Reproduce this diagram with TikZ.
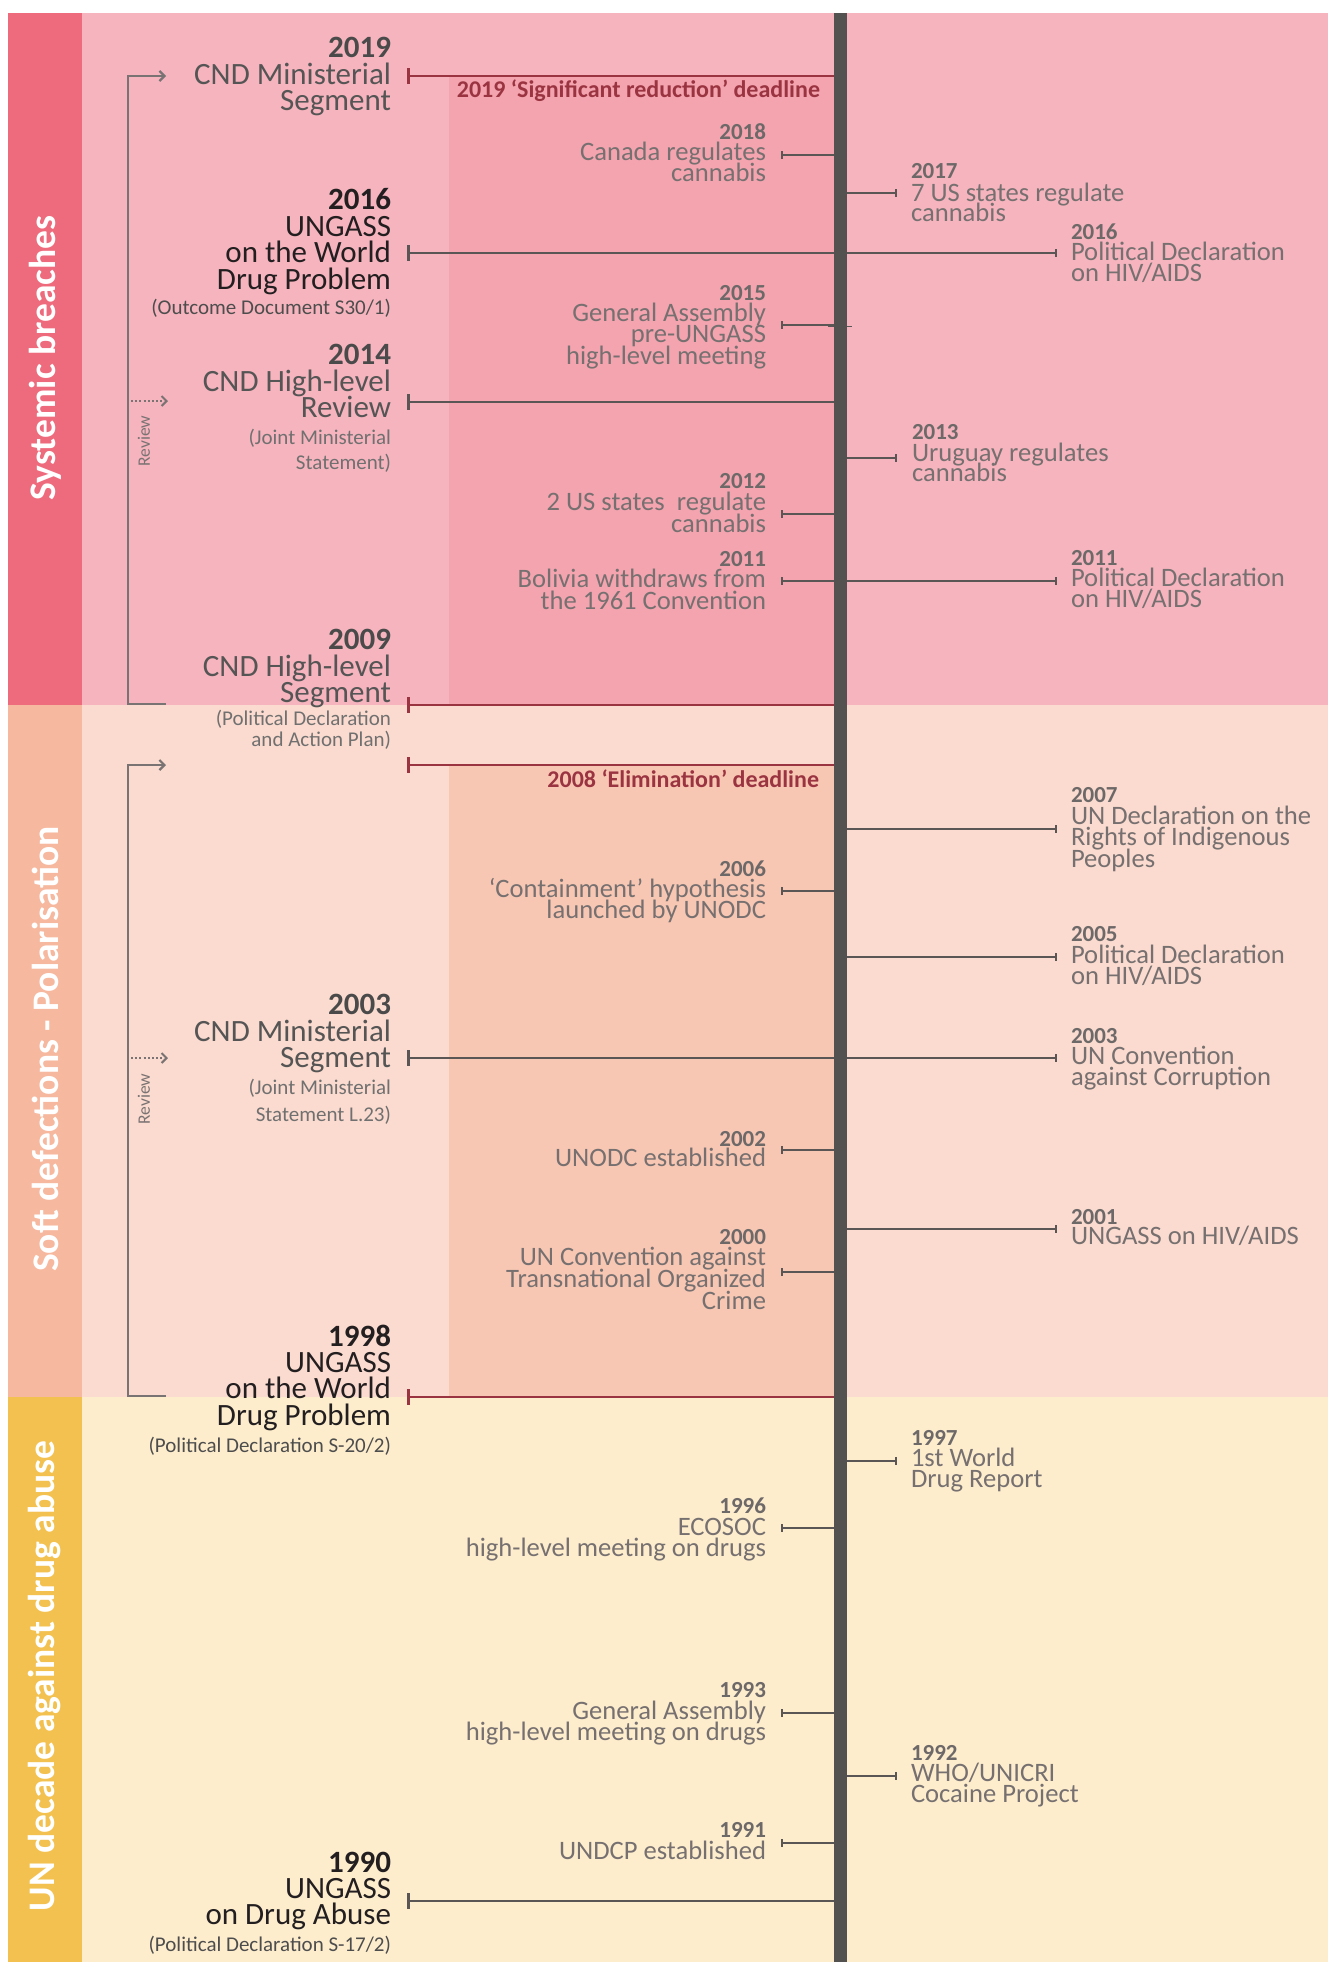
\documentclass[tikz,border=0pt]{standalone}
\usepackage{fontspec}
\setmainfont{Carlito}
\usetikzlibrary{arrows.meta}
\definecolor{stripA}{HTML}{EE6B7D}
\definecolor{bgA}{HTML}{F6B4BE}
\definecolor{bandA}{HTML}{F3A4AF}
\definecolor{stripB}{HTML}{F6B89E}
\definecolor{bgB}{HTML}{FBDBCF}
\definecolor{bandB}{HTML}{F8C7B3}
\definecolor{stripC}{HTML}{F3C14F}
\definecolor{bgC}{HTML}{FDEDCD}
\definecolor{cYL}{HTML}{4A4A4A}
\definecolor{cTL}{HTML}{555555}
\definecolor{cBlk}{HTML}{231F20}
\definecolor{cSub}{HTML}{707070}
\definecolor{cSubK}{HTML}{4D4D4D}
\definecolor{cMid}{HTML}{767070}
\definecolor{cMidY}{HTML}{6E6969}
\definecolor{cRed}{HTML}{9B3441}
\definecolor{cBar}{HTML}{545151}
\definecolor{cBrk}{HTML}{7A7373}
\definecolor{cLine}{HTML}{5A5656}
\tikzset{
 zsep/.style={inner sep=0pt, outer sep=0pt},
 yL/.style={zsep, anchor=base east, font=\fontsize{31}{31}\selectfont\bfseries, text=cYL},
 yLk/.style={yL, text=cBlk},
 tL/.style={zsep, anchor=base east, font=\fontsize{31}{31}\selectfont, text=cTL},
 tLk/.style={tL, text=cBlk},
 sL/.style={zsep, anchor=base east, font=\fontsize{21}{21}\selectfont, text=cSub},
 sLk/.style={sL, text=cSubK},
 yM/.style={zsep, anchor=base east, font=\fontsize{23}{23}\selectfont\bfseries, text=cMidY},
 tM/.style={zsep, anchor=base east, font=\fontsize{26.6}{26.6}\selectfont, text=cMid},
 yR/.style={yM, anchor=base west},
 tR/.style={tM, anchor=base west},
 dl/.style={zsep, anchor=base east, font=\fontsize{24}{24}\selectfont\bfseries, text=cRed},
 striplab/.style={zsep, rotate=90, font=\fontsize{37.5}{37.5}\selectfont\bfseries, text=white},
 revlab/.style={zsep, rotate=90, font=\fontsize{17.5}{17.5}\selectfont, text=cBrk},
 brk/.style={draw=cBrk, line width=2.2pt},
 thinln/.style={draw=cLine, line width=1.6pt},
 tickln/.style={draw=cLine, line width=2pt},
}
\newcommand\mlines[6]{\foreach \tx [count=\k] in {#6} {\node[#2] (#1-\k) at (#3,{#4+(\k-1)*#5}) {\tx};}}
\newcommand\bigline[3]{%
 \coordinate (#1-a) at (408,#2); \coordinate (#1-b) at (836,#2);
 \draw[line width=2.6pt, draw=#3] (#1-a) -- (#1-b);
 \draw[line width=3pt, draw=#3] ([yshift=8pt]#1-a) -- ([yshift=-8pt]#1-a);}
\newcommand\midtick[2]{%
 \coordinate (#1-a) at (782,#2); \coordinate (#1-b) at (836,#2);
 \draw[thinln] (#1-a) -- (#1-b);
 \draw[tickln] ([yshift=4pt]#1-a) -- ([yshift=-4pt]#1-a);}
\newcommand\rtick[3]{%
 \coordinate (#1-a) at (845,#2); \coordinate (#1-b) at (#3,#2);
 \draw[thinln] (#1-a) -- (#1-b);
 \draw[tickln] ([yshift=4pt]#1-b) -- ([yshift=-4pt]#1-b);}
\begin{document}
\begin{tikzpicture}[x=1pt,y=-1pt]
\useasboundingbox (0,0) rectangle (1328,1962);
\fill[white] (0,0) rectangle (1328,1962);
% sections
\fill[stripA] (8,13) rectangle (82,705);
\fill[bgA] (82,13) rectangle (1328,705);
\fill[bandA] (449,77) rectangle (834,705);
\fill[stripB] (8,705) rectangle (82,1397);
\fill[bgB] (82,705) rectangle (1328,1397);
\fill[bandB] (449,765) rectangle (834,1397);
\fill[stripC] (8,1397) rectangle (82,1962);
\fill[bgC] (82,1397) rectangle (1328,1962);
% section labels
\node[striplab] (s1) at (45,358) {Systemic breaches};
\node[striplab] (s2) at (45,1049) {Soft defections - Polarisation};
\node[striplab] (s3) at (45,1676) {UN decade against drug abuse};
% big connectors
\bigline{c19}{76}{cRed}
\bigline{c16}{253}{cLine}
\bigline{c14}{402}{cLine}
\bigline{c09}{705}{cRed}
\bigline{c08}{765}{cRed}
\bigline{c03}{1058}{cLine}
\bigline{c98}{1397}{cRed}
\bigline{c90}{1901}{cLine}
% small connectors left of bar
\midtick{k18}{155}
\midtick{k15}{325}
\midtick{k12}{514}
\midtick{k11}{581}
\midtick{k06}{891}
\midtick{k02}{1150}
\midtick{k00}{1272}
\midtick{k96}{1528}
\midtick{k93}{1713}
\midtick{k91}{1843}
% right connectors
\rtick{q17}{193}{896}
\rtick{q16}{253}{1056}
\rtick{q13}{458}{896}
\rtick{q11}{581}{1056}
\rtick{q07}{829}{1056}
\rtick{q05}{957}{1056}
\rtick{q03}{1058}{1056}
\rtick{q01}{1229}{1056}
\rtick{q97}{1461}{896}
\rtick{q92}{1776}{896}
\coordinate (st1) at (828,326); \coordinate (st2) at (852,326);
\draw[draw=cLine, line width=1pt] (st1) -- (st2);
% timeline bar
\coordinate (bartop) at (840.5,13); \coordinate (barbot) at (840.5,1962);
\draw[line width=13pt, draw=cBar] (bartop) -- (barbot);
% brackets
\coordinate (b1e) at (166,704); \coordinate (b1b) at (128,704);
\coordinate (b1t) at (128,76); \coordinate (b1a) at (166,76);
\draw[brk, -{Straight Barb[length=5pt,width=10pt]}] (b1e) -- (b1b) -- (b1t) -- (b1a);
\coordinate (b2e) at (166,1396); \coordinate (b2b) at (128,1396);
\coordinate (b2t) at (128,765); \coordinate (b2a) at (166,765);
\draw[brk, -{Straight Barb[length=5pt,width=10pt]}] (b2e) -- (b2b) -- (b2t) -- (b2a);
\coordinate (r1s) at (131,401); \coordinate (r1e) at (168,401);
\draw[draw=cBrk, line width=2pt, dash pattern=on 2pt off 2.2pt, -{Straight Barb[length=5pt,width=10pt]}] (r1s) -- (r1e);
\coordinate (r2s) at (131,1058); \coordinate (r2e) at (168,1058);
\draw[draw=cBrk, line width=2pt, dash pattern=on 2pt off 2.2pt, -{Straight Barb[length=5pt,width=10pt]}] (r2s) -- (r2e);
\node[revlab] (rv1) at (144,441) {Review};
\node[revlab] (rv2) at (144,1099) {Review};
% deadlines
\node[dl] (d19) at (820,97) {2019 ‘Significant reduction’ deadline};
\node[dl] (d08) at (819,787) {2008 ‘Elimination’ deadline};
% left column
\node[yL] (l19y) at (391,57) {2019};
\mlines{l19}{tL}{391}{84}{26.5}{CND Ministerial,Segment}
\node[yLk] (l16y) at (391,209) {2016};
\mlines{l16}{tLk}{391}{236}{26.5}{UNGASS,on the World,Drug Problem}
\node[sLk] (l16s) at (391,314) {(Outcome Document S30/1)};
\node[yL] (l14y) at (391,364) {2014};
\mlines{l14}{tL}{391}{391}{26.5}{CND High-level,Review}
\mlines{l14s}{sL}{391}{444}{25}{{(Joint Ministerial},{Statement)}}
\node[yL] (l09y) at (391,649) {2009};
\mlines{l09}{tL}{391}{676}{26}{CND High-level,Segment}
\mlines{l09s}{sL}{391}{725}{21.5}{{(Political Declaration\hspace{4pt}},{and Action Plan)}}
\node[yL] (l03y) at (391,1014) {2003};
\mlines{l03}{tL}{391}{1041}{26.5}{CND Ministerial,Segment}
\mlines{l03s}{sL}{391}{1094}{27}{{(Joint Ministerial\hspace{4pt}},{Statement L.23)}}
\node[yLk] (l98y) at (391,1346) {1998};
\mlines{l98}{tLk}{391}{1372}{26.7}{UNGASS,on the World,Drug Problem}
\node[sLk] (l98s) at (391,1452) {(Political Declaration S-20/2)};
\node[yLk] (l90y) at (391,1872) {1990};
\mlines{l90}{tLk}{391}{1898}{26.7}{UNGASS,on Drug Abuse}
\node[sLk] (l90s) at (391,1951) {(Political Declaration S-17/2)};
% middle column
\node[yM] (m18y) at (766,139) {2018};
\mlines{m18}{tM}{766}{160}{21}{Canada regulates,cannabis}
\node[yM] (m15y) at (766,300) {2015};
\mlines{m15}{tM}{766}{321}{21.5}{General Assembly,pre-UNGASS,high-level meeting}
\node[yM] (m12y) at (766,488) {2012};
\mlines{m12}{tM}{766}{510}{22}{2 US states\ \ regulate,cannabis\hspace{6pt}}
\node[yM] (m11y) at (766,566) {2011};
\mlines{m11}{tM}{766}{587}{22}{Bolivia withdraws from,the 1961 Convention}
\node[yM] (m06y) at (766,876) {2006};
\mlines{m06}{tM}{766}{897}{21}{‘Containment’ hypothesis,launched by UNODC}
\node[yM] (m02y) at (766,1146) {2002};
\mlines{m02}{tM}{766}{1166}{21}{UNODC established}
\node[yM] (m00y) at (766,1244) {2000};
\mlines{m00}{tM}{766}{1265}{22}{UN Convention against,Transnational Organized,Crime}
\node[yM] (m96y) at (766,1513) {1996};
\mlines{m96}{tM}{766}{1535}{21}{ECOSOC,high-level meeting on drugs}
\node[yM] (m93y) at (766,1697) {1993};
\mlines{m93}{tM}{766}{1719}{21}{General Assembly\hspace{4pt},high-level meeting on drugs}
\node[yM] (m91y) at (766,1837) {1991};
\mlines{m91}{tM}{766}{1859}{21}{UNDCP established}
% right column
\node[yR] (r17y) at (911,178) {2017};
\mlines{r17}{tR}{911}{201}{20.5}{7 US states regulate,cannabis}
\node[yR] (r16y) at (1071,239) {2016};
\mlines{r16}{tR}{1071}{260}{21}{Political Declaration,on HIV/AIDS}
\node[yR] (r13y) at (912,439) {2013};
\mlines{r13}{tR}{912}{461}{20.5}{Uruguay regulates,cannabis}
\node[yR] (r11y) at (1071,565) {2011};
\mlines{r11}{tR}{1071}{586}{21.5}{Political Declaration,on HIV/AIDS}
\node[yR] (r07y) at (1071,802) {2007};
\mlines{r07}{tR}{1071}{824}{21.5}{UN Declaration on the,Rights of Indigenous,Peoples}
\node[yR] (r05y) at (1071,941) {2005};
\mlines{r05}{tR}{1071}{963}{21}{Political Declaration,on HIV/AIDS}
\node[yR] (r03y) at (1071,1043) {2003};
\mlines{r03}{tR}{1071}{1064}{21}{UN Convention,against Corruption}
\node[yR] (r01y) at (1071,1224) {2001};
\mlines{r01}{tR}{1071}{1244}{21}{UNGASS on HIV/AIDS}
\node[yR] (r97y) at (911,1445) {1997};
\mlines{r97}{tR}{911}{1466}{21}{1st World,Drug Report}
\node[yR] (r92y) at (911,1760) {1992};
\mlines{r92}{tR}{911}{1781}{21}{WHO/UNICRI,Cocaine Project}
\end{tikzpicture}
\end{document}
